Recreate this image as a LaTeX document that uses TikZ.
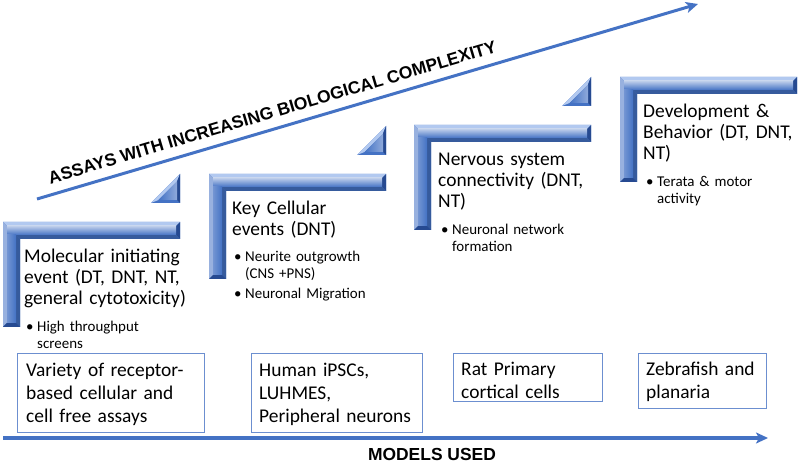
\documentclass[tikz,border=0pt]{standalone}
\usepackage{fontspec}
\setmainfont{Carlito}
\newfontfamily\headfont{Liberation Sans}
\usepackage{tikz}
\usetikzlibrary{arrows.meta,positioning}

\definecolor{stepblue}{RGB}{68,114,196}
\definecolor{stephi}{RGB}{178,201,240}
\definecolor{steplo}{RGB}{38,74,145}
\definecolor{boxline}{RGB}{108,143,208}

\tikzset{
  axisarrow/.style={draw=stepblue, line width=3bp, -{Stealth[length=12bp,width=11bp,inset=3bp]}},
  headlbl/.style={font=\headfont\bfseries\fontsize{17.5}{20}\selectfont, inner sep=0pt},
  titletext/.style={font=\fontsize{19.5}{21}\selectfont, text width=172bp, align=left, inner sep=0pt, anchor=base west},
  bullettext/.style={font=\fontsize{15}{16.5}\selectfont, text width=172bp, align=left, inner sep=0pt, anchor=base west},
  modelbox/.style={draw=boxline, line width=1.2bp, inner sep=0pt, anchor=north west},
  boxtext/.style={font=\fontsize{19.5}{23}\selectfont, text width=180bp, align=left, inner sep=0pt, anchor=base west}
}
\newcommand\bul{\makebox[11bp][l]{\textbullet}}
\newcommand\hang{\hspace*{11bp}}

\begin{document}
\begin{tikzpicture}[x=1bp, y=-1bp]
    \useasboundingbox (0,0) rectangle (800,465);

    % Steps (bevelled corner shapes)
    \foreach \sx/\sy in {3/222, 209/174, 414/125, 620/77} {
        \fill[stepblue] (\sx,\sy) -- (\sx+177,\sy) -- (\sx+177,\sy+17) -- (\sx+17,\sy+17) -- (\sx+17,\sy+105) -- (\sx,\sy+105) -- cycle;
        \fill[stephi] (\sx,\sy) -- (\sx+177,\sy) -- (\sx+173,\sy+4) -- (\sx+4,\sy+4) -- cycle;
        \fill[stepblue!55!white] (\sx,\sy) -- (\sx+4,\sy+4) -- (\sx+4,\sy+101) -- (\sx,\sy+105) -- cycle;
        \fill[steplo] (\sx+177,\sy) -- (\sx+177,\sy+17) -- (\sx+173,\sy+13) -- (\sx+173,\sy+4) -- cycle;
        \fill[stepblue!80!black] (\sx+177,\sy+17) -- (\sx+17,\sy+17) -- (\sx+13,\sy+13) -- (\sx+173,\sy+13) -- cycle;
        \fill[stepblue!80!black] (\sx+17,\sy+17) -- (\sx+17,\sy+105) -- (\sx+13,\sy+101) -- (\sx+13,\sy+13) -- cycle;
        \fill[steplo] (\sx+17,\sy+105) -- (\sx,\sy+105) -- (\sx+4,\sy+101) -- (\sx+13,\sy+101) -- cycle;
        \shade[top color=stepblue!35!white, bottom color=stepblue] (\sx+4,\sy+4) rectangle (\sx+173,\sy+13);
        \shade[left color=stepblue!75!white, right color=stepblue] (\sx+4,\sy+13) rectangle (\sx+13,\sy+101);
    }

    % Small triangles above each step
    \foreach \tx/\ty in {180/203, 386/155, 591/106} {
        \fill[stepblue] (\tx-29,\ty) -- (\tx,\ty) -- (\tx,\ty-29) -- cycle;
        \fill[stephi] (\tx-29,\ty) -- (\tx,\ty-29) -- (\tx-3,\ty-21.5) -- (\tx-21.5,\ty-3) -- cycle;
        \fill[steplo] (\tx,\ty) -- (\tx,\ty-29) -- (\tx-3,\ty-21.5) -- (\tx-3,\ty-3) -- cycle;
        \shade[left color=stepblue, right color=stepblue!60!white] (\tx-21.5,\ty-3) -- (\tx-3,\ty-3) -- (\tx-3,\ty-21.5) -- cycle;
    }

    % Step texts
    \node[titletext] (t1) at (24,263) {Molecular initiating\\event (DT, DNT, NT,\\general cytotoxicity)};
    \node[bullettext] (b1) at (26,332) {\bul High throughput\\\hang screens};
    \node[titletext] (t2) at (232,215) {Key Cellular\\events (DNT)};
    \node[bullettext] (b2) at (234,262) {\bul Neurite outgrowth\\\hang (CNS +PNS)\\[3.5bp]\bul Neuronal Migration};
    \node[titletext] (t3) at (438,166) {Nervous system\\connectivity (DNT,\\NT)};
    \node[bullettext] (b3) at (441,235) {\bul Neuronal network\\\hang formation};
    \node[titletext] (t4) at (643,118) {Development \&\\Behavior (DT, DNT,\\NT)};
    \node[bullettext] (b4) at (646,187) {\bul Terata \& motor\\\hang activity};

    % Complexity axis
    \coordinate (astart) at (37,199);
    \coordinate (aend) at (698,4);
    \draw[axisarrow] (astart) -- (aend);
    \node[headlbl, anchor=base, rotate=16.46] (albl) at (274,118) {ASSAYS WITH INCREASING BIOLOGICAL COMPLEXITY};

    % Model boxes
    \node[modelbox, minimum width=187bp, minimum height=79bp] (m1) at (17,353) {};
    \node[boxtext] (m1t) at (26,377) {Variety of receptor-\\based cellular and\\cell free assays};
    \node[modelbox, minimum width=171bp, minimum height=79bp] (m2) at (251,353) {};
    \node[boxtext] (m2t) at (259,377) {Human iPSCs,\\LUHMES,\\Peripheral neurons};
    \node[modelbox, minimum width=149bp, minimum height=48bp] (m3) at (453,353) {};
    \node[boxtext] (m3t) at (461,376) {Rat Primary\\cortical cells};
    \node[modelbox, minimum width=128bp, minimum height=55bp] (m4) at (638,353) {};
    \node[boxtext] (m4t) at (646,376) {Zebrafish and\\planaria};

    % Models axis
    \coordinate (mstart) at (3,438);
    \coordinate (mend) at (768,438);
    \draw[axisarrow, line width=3.5bp] (mstart) -- (mend);
    \node[headlbl, anchor=base] (mlbl) at (432,460) {MODELS USED};
\end{tikzpicture}
\end{document}
